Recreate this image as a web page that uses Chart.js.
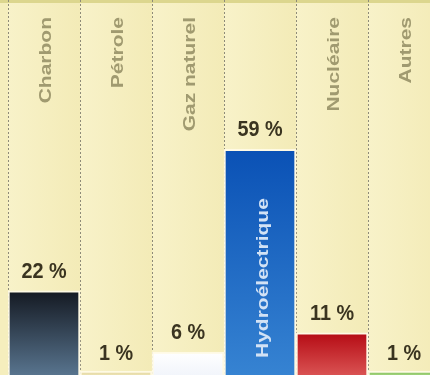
<!DOCTYPE html>
<html lang="fr">
<head>
<meta charset="utf-8">
<script src="https://cdn.jsdelivr.net/npm/chart.js@4.4.1/dist/chart.umd.min.js"></script>
<style>
  html, body { margin: 0; padding: 0; overflow: hidden; background: #f6efbf; }
  #wrap { position: relative; width: 430px; height: 375px; overflow: hidden; }
  canvas { position: absolute; left: 0; top: 0; }
</style>
</head>
<body>
<div id="wrap"><canvas id="chart-sources" width="440" height="375"></canvas></div>
<script>
// Production d'électricité par source (%)
const categories = ['Charbon', 'Pétrole', 'Gaz naturel', 'Hydroélectrique', 'Nucléaire', 'Autres'];
const shares = [22, 1, 6, 59, 11, 1];

// Dégradés des barres (haut -> bas)
const barTop    = ['#141922', '#e2d6a0', '#ffffff', '#0a51b5', '#b50b14', '#7dbd58'];
const barBottom = ['#58748e', '#ece2b2', '#f2f5fb', '#3683d2', '#d95252', '#a2d27c'];

const FONT = '"Liberation Sans", Arial, sans-serif';

function barGradient(ctx) {
  const chart = ctx.chart;
  const area = chart.chartArea;
  const i = ctx.dataIndex;
  if (!area || i === undefined) return barTop[i] || '#888';
  const y = chart.scales.y.getPixelForValue(ctx.raw);
  const g = chart.ctx.createLinearGradient(0, y, 0, area.bottom);
  g.addColorStop(0, barTop[i]);
  g.addColorStop(1, barBottom[i]);
  return g;
}

// Fond crème avec une légère nuance par colonne
const backdrop = {
  id: 'backdrop',
  beforeDraw(chart) {
    const { ctx, chartArea: a, scales: { x } } = chart;
    ctx.save();
    ctx.fillStyle = '#f5eebd';
    ctx.fillRect(0, 0, chart.width, chart.height);
    const half = (x.getPixelForValue(1) - x.getPixelForValue(0)) / 2;
    categories.forEach((_, i) => {
      const cx = x.getPixelForValue(i);
      const g = ctx.createLinearGradient(cx - half, 0, cx + half, 0);
      g.addColorStop(0, '#f8f2c9');
      g.addColorStop(1, '#f3ebb7');
      ctx.fillStyle = g;
      ctx.fillRect(cx - half, a.top, half * 2, a.bottom - a.top);
    });
    ctx.fillStyle = '#dcd68e';
    ctx.fillRect(0, 0, chart.width, 3);
    ctx.restore();
  },
};

// Noms des sources (verticaux) et pourcentages au-dessus des barres
const labels = {
  id: 'labels',
  afterDatasetsDraw(chart) {
    const { ctx, chartArea: a } = chart;
    const bars = chart.getDatasetMeta(0).data;
    ctx.save();
    bars.forEach((bar, i) => {
      // pourcentage
      ctx.save();
      ctx.translate(bar.x, bar.y - (shares[i] < 3 ? 6 : 8));
      ctx.scale(0.9, 1);
      ctx.font = `bold 22px ${FONT}`;
      ctx.fillStyle = '#3a3420';
      ctx.textAlign = 'center';
      ctx.textBaseline = 'bottom';
      ctx.fillText(`${shares[i]} %`, 0, 0);
      ctx.restore();

      // nom de la source
      ctx.save();
      ctx.font = `bold 21px ${FONT}`;
      const w = ctx.measureText(categories[i]).width;
      const inside = bar.y < a.top + 17 + w + 40;
      if (inside) {
        ctx.translate(bar.x + 3, a.bottom - 17);
        ctx.rotate(-Math.PI / 2);
        ctx.scale(1, 0.8);
        ctx.textAlign = 'left';
        ctx.fillStyle = '#d2e2f5';
      } else {
        ctx.translate(bar.x + 2, a.top + 17);
        ctx.rotate(-Math.PI / 2);
        ctx.scale(1, 0.8);
        ctx.textAlign = 'right';
        ctx.fillStyle = '#a09a70';
      }
      ctx.textBaseline = 'middle';
      ctx.fillText(categories[i], 0, 0);
      ctx.restore();
    });
    ctx.restore();
  },
};

new Chart(document.getElementById('chart-sources'), {
  type: 'bar',
  data: {
    labels: categories,
    datasets: [{
      data: shares,
      backgroundColor: barGradient,
      borderColor: 'rgba(255, 251, 232, 0.9)',
      borderWidth: 2,
      borderSkipped: 'bottom',
      barPercentage: 1,
      categoryPercentage: 1,
    }],
  },
  options: {
    responsive: false,
    animation: false,
    devicePixelRatio: 1,
    layout: { padding: { left: 8, top: 0, right: 0, bottom: 0 } },
    plugins: { legend: { display: false }, tooltip: { enabled: false } },
    scales: {
      x: {
        display: true,
        ticks: { display: false },
        grid: { offset: true, drawTicks: false, color: '#8e8b78', lineWidth: 1 },
        border: { display: false, dash: [2, 2] },
      },
      y: { display: false, min: 0, max: 98 },
    },
  },
  plugins: [backdrop, labels],
});
</script>
</body>
</html>
